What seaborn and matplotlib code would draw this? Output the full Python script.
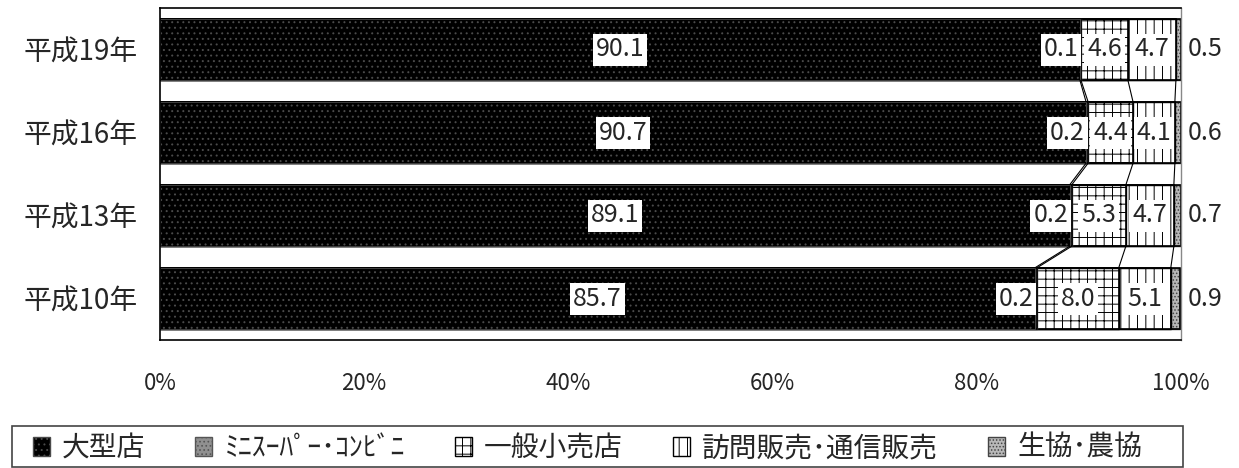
import numpy as np
import pandas as pd
import seaborn as sns
import matplotlib.pyplot as plt
from matplotlib.patches import Patch, Rectangle

# データ（%）
years = ['平成19年', '平成16年', '平成13年', '平成10年']
ogata = [90.1, 90.7, 89.1, 85.7]      # 大型店
mini = [0.1, 0.2, 0.2, 0.2]           # ﾐﾆｽｰﾊﾟｰ･ｺﾝﾋﾞﾆ
ippan = [4.6, 4.4, 5.3, 8.0]          # 一般小売店
homon = [4.7, 4.1, 4.7, 5.1]          # 訪問販売・通信販売
seikyo = [0.5, 0.6, 0.7, 0.9]         # 生協・農協
series_names = ['大型店', 'ﾐﾆｽｰﾊﾟｰ･ｺﾝﾋﾞﾆ', '一般小売店', '訪問販売･通信販売', '生協･農協']

sns.set_style('white')
plt.rcParams['font.family'] = ['Noto Sans CJK JP', 'DejaVu Sans']
plt.rcParams['hatch.linewidth'] = 0.7

vals = np.array([ogata, mini, ippan, homon, seikyo])
cum = np.cumsum(vals, axis=0)

# 各系列の見た目（面色, ハッチ, ハッチ色）
styles = [('black', '...', '#4a4a4a'),
          ('#909090', '....', '#555555'),
          ('white', '++', 'black'),
          ('white', '||', 'black'),
          ('#b8b8b8', '.....', '#444444')]

fig = plt.figure(figsize=(12.39, 4.68), dpi=100)
ax = fig.add_axes([160 / 1239, 1 - 340 / 468, 1021 / 1239, 332 / 468])

bw = 0.74
# 累積値を右側の系列から順に重ねて描く
for k in range(4, -1, -1):
    df = pd.DataFrame({'year': years, 'v': cum[k]})
    face, hatch, hc = styles[k]
    sns.barplot(data=df, x='v', y='year', orient='h', color=face, width=bw,
                saturation=1, ax=ax)
    for bar in ax.containers[-1]:
        bar.set_facecolor(face)
        bar.set_hatch(hatch)
        bar.set_edgecolor(hc)
        bar.set_linewidth(0.6 if k == 0 else 1.0)
    if k > 0:
        # 外枠
        sns.barplot(data=df, x='v', y='year', orient='h', fill=False,
                    width=bw, color='black', linewidth=1.2, edgecolor='black', ax=ax)

# 区分線
for k in range(4):
    for i in range(3):
        ax.plot([cum[k][i], cum[k][i + 1]], [i + bw / 2, i + 1 - bw / 2],
                color='black', lw=0.8)

# データラベル
fs = 18
box = dict(boxstyle='square,pad=0.12', facecolor='white', edgecolor='none')
for i in range(4):
    ax.text(ogata[i] / 2, i, f'{ogata[i]:.1f}', ha='center', va='center',
            fontsize=fs, bbox=box)
    ax.text(cum[0][i] - 0.15, i, f'{mini[i]:.1f}', ha='right', va='center',
            fontsize=fs, bbox=box)
    ax.text(cum[1][i] + ippan[i] / 2, i, f'{ippan[i]:.1f}', ha='center',
            va='center', fontsize=fs, bbox=box)
    ax.text(cum[2][i] + homon[i] / 2, i, f'{homon[i]:.1f}', ha='center',
            va='center', fontsize=fs, bbox=box)
    ax.text(100.7, i, f'{seikyo[i]:.1f}', ha='left', va='center',
            fontsize=fs, clip_on=False)

ax.set_xlim(0, 100)
ax.set_ylim(3.5, -0.5)
ax.set_xticks(range(0, 101, 20))
ax.set_xticklabels([f'{t}%' for t in range(0, 101, 20)], fontsize=16)
ax.tick_params(axis='x', length=0, pad=23)
ax.tick_params(axis='y', length=0, pad=16, labelsize=20)
ax.set_yticks([0.5, 1.5, 2.5], minor=True)
ax.tick_params(axis='y', which='minor', direction='in', length=7,
               color='#888888', width=1)
ax.set_xlabel('')
ax.set_ylabel('')
for side in ['top', 'left', 'bottom']:
    ax.spines[side].set_color('black')
    ax.spines[side].set_linewidth(1.2)
ax.spines['right'].set_color('#888888')
ax.spines['right'].set_linewidth(1.0)

# 凡例
handles = [Patch(facecolor=s[0], hatch=s[1], edgecolor=s[2]) for s in styles]
leg = fig.legend(handles, series_names, loc='center left',
                 bbox_to_anchor=(33 / 1239, 1 - 448 / 468),
                 ncol=5, frameon=False, borderaxespad=0, borderpad=0,
                 handlelength=0.6, handleheight=0.7, handletextpad=0.45,
                 columnspacing=1.8, fontsize=20)
fig.patches.append(Rectangle((12 / 1239, 1 / 468), 1171 / 1239, 41 / 468,
                             transform=fig.transFigure, fill=False,
                             edgecolor='#444444', lw=1.2))

fig.savefig('out.png', dpi=100)
